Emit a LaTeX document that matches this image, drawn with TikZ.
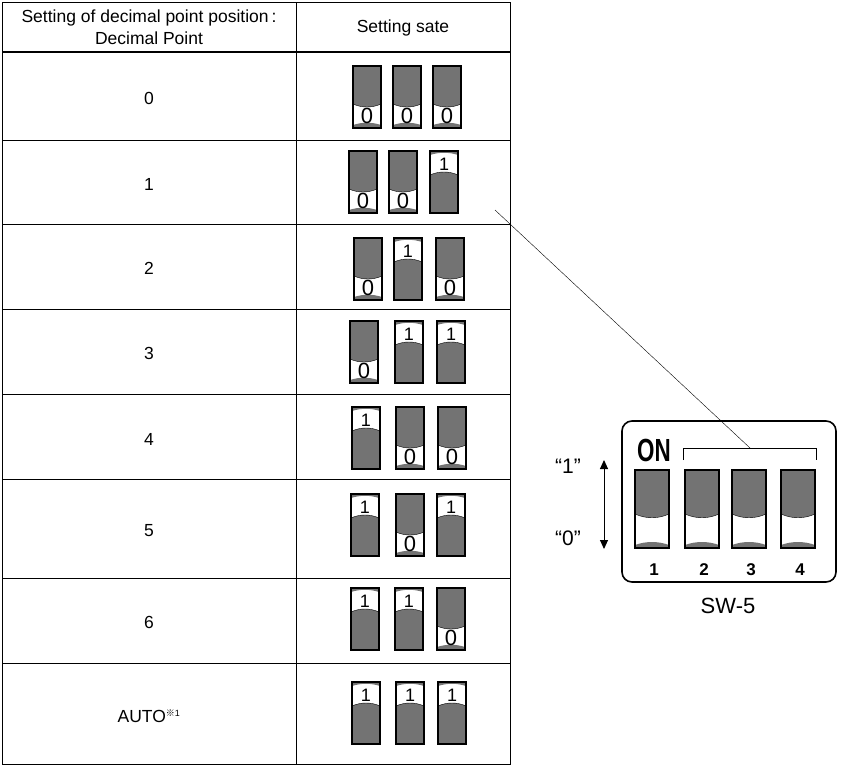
\documentclass[tikz,border=0pt]{standalone}
\usepackage{fontspec}
\setmainfont{Liberation Sans}
\newfontfamily\cjkfont{Noto Sans CJK JP}
\usetikzlibrary{arrows.meta}
\begin{document}
\begin{tikzpicture}[x=1pt,y=-1pt,
  grid/.style={line width=0.6pt},
  txt/.style={font=\fontsize{17.5}{22}\selectfont},
  pics/swz/.style={code={% off
    \fill[black!55] (-14,0) -- (-14,38) .. controls (-5,42) and (5,42) .. (14,38) -- (14,0) -- cycle;
    \fill[black!55] (-14,62) -- (-14,59) .. controls (-5,56) and (5,56) .. (14,59) -- (14,62) -- cycle;
    \draw[line width=1.2pt] (-14,0) rectangle (14,62);
    \draw (-14,38) .. controls (-5,42) and (5,42) .. (14,38);
    \node[font=\fontsize{22}{22}\selectfont] at (0,50) {0};}},
  pics/swo/.style={code={% on
    \fill[black!55] (-14,0) -- (-14,4) .. controls (-5,1) and (5,1) .. (14,4) -- (14,0) -- cycle;
    \fill[black!55] (-14,24) .. controls (-5,20) and (5,20) .. (14,24) -- (14,62) -- (-14,62) -- cycle;
    \draw[line width=1.2pt] (-14,0) rectangle (14,62);
    \draw (-14,24) .. controls (-5,20) and (5,20) .. (14,24);
    \node[font=\fontsize{18}{18}\selectfont] at (0,13) {1};}}
]
\useasboundingbox (0,0) rectangle (843,766);
% table
\draw[grid] (2,2) rectangle (510,764);
\draw[grid] (296,2) -- (296,764);
\draw[line width=1.4pt] (2,52) -- (510,52);
\foreach \y in {140,224,309,394,479,578,663} \draw[grid] (2,\y) -- (510,\y);
\node[txt,align=center] (h1) at (149,27) {Setting of decimal point position\,:\\Decimal Point};
\node[txt] (h2) at (403,28) {Setting sate};
\node[txt] (r0) at (149,98) {0};
\node[txt] (r1) at (149,184) {1};
\node[txt] (r2) at (149,268) {2};
\node[txt] (r3) at (149,353) {3};
\node[txt] (r4) at (149,439) {4};
\node[txt] (r5) at (149,531) {5};
\node[txt] (r6) at (149,622) {6};
\node[txt] (r7) at (149,716) {AUTO\textsuperscript{\fontsize{9}{9}\selectfont{\cjkfont ※}1}};
% switches
\pic at (367,66) {swz}; \pic at (407,66) {swz}; \pic at (447,66) {swz};
\pic at (363,151) {swz}; \pic at (403,151) {swz}; \pic at (444,151) {swo};
\pic at (368,238) {swz}; \pic at (408,238) {swo}; \pic at (450,238) {swz};
\pic at (364,321) {swz}; \pic at (409,321) {swo}; \pic at (451,321) {swo};
\pic at (366,407) {swo}; \pic at (410,407) {swz}; \pic at (452,407) {swz};
\pic at (365,494) {swo}; \pic at (410,494) {swz}; \pic at (451,494) {swo};
\pic at (365,588) {swo}; \pic at (409,588) {swo}; \pic at (451,588) {swz};
\pic at (366,682) {swo}; \pic at (410,682) {swo}; \pic at (452,682) {swo};
% SW-5
\draw[line width=1.6pt,rounded corners=10pt] (622,421) rectangle (836,582);
\node[font=\fontsize{32}{32}\selectfont\bfseries,inner sep=0pt,xscale=0.7] (on) at (654,450) {ON};
\coordinate (bk) at (750,448);
\coordinate (tip) at (495,210);
\draw (683,460) -- (683,448) -- (816,448) -- (816,460);
\draw (tip) -- (bk);
\foreach \x/\n in {652/1,702/2,749/3,798/4}{
  \fill[black!55] (\x-17,470) -- (\x-17,514) .. controls (\x-6,519) and (\x+6,519) .. (\x+17,514) -- (\x+17,470) -- cycle;
  \fill[black!55] (\x-17,548) -- (\x-17,545) .. controls (\x-6,541) and (\x+6,541) .. (\x+17,545) -- (\x+17,548) -- cycle;
  \draw[line width=1.6pt] (\x-17,470) rectangle (\x+17,548);
  \draw (\x-17,514) .. controls (\x-6,519) and (\x+6,519) .. (\x+17,514);
  \node[font=\fontsize{17}{17}\selectfont\bfseries] (n\n) at (\x+2,570) {\n};
}
\coordinate (a1) at (604,460); \coordinate (a0) at (604,549);
\draw[-{Triangle[length=9pt,width=8pt]},line width=1pt] (604,505) -- (a1);
\draw[-{Triangle[length=9pt,width=8pt]},line width=1pt] (604,505) -- (a0);
\node[font=\fontsize{21}{21}\selectfont] (l1) at (568,466) {“1”};
\node[font=\fontsize{21}{21}\selectfont] (l0) at (568,538) {“0”};
\node[font=\fontsize{22}{22}\selectfont] (sw) at (728,606) {SW-5};
\end{tikzpicture}
\end{document}
